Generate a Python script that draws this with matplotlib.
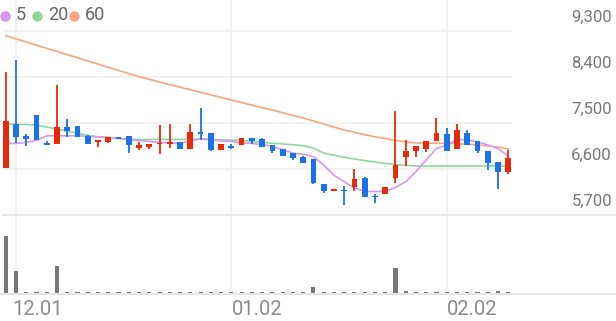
import matplotlib
matplotlib.use("Agg")
import matplotlib.pyplot as plt
import numpy as np

plt.rcParams['font.family'] = ['Roboto', 'DejaVu Sans']

# ---- data ----
opens = [6620, 7490, 7250, 7650, 7100, 7080, 7420, 7450, 7250, 7130,
         7130, 7230, 7250, 7020, 7040, 7080, 7080, 7120, 6990, 7330,
         7300, 6970, 7040, 7070, 7210, 7180, 7070, 6990, 6910, 6840,
         6790, 6310, 6160, 6190, 6250, 6420, 6070, 6110, 6420, 6840,
         6950, 7000, 7150, 7280, 7000, 7300, 7150, 6960, 6740, 6550]
highs = [8490, 8730, 7290, 7650, 7140, 8240, 7580, 7450, 7270, 7170,
         7230, 7230, 7250, 7120, 7080, 7460, 7490, 7120, 7490, 7800,
         7300, 7080, 7080, 7210, 7210, 7200, 7070, 7000, 6910, 6860,
         6790, 6310, 6210, 6270, 6600, 6450, 6120, 6240, 7740, 7170,
         7050, 7150, 7590, 7400, 7480, 7360, 7150, 6960, 6740, 6970]
lows = [6620, 7100, 7050, 7160, 7070, 7080, 7230, 7230, 7080, 7040,
        7100, 7180, 6910, 6970, 6990, 6890, 7020, 6990, 6990, 7170,
        6950, 6970, 6990, 7070, 7090, 7040, 6920, 6850, 6780, 6720,
        6310, 6140, 6160, 5900, 6170, 6060, 5930, 6110, 6330, 6660,
        6840, 6940, 7150, 6960, 7000, 7070, 6920, 6590, 6200, 6510]
closes = [7540, 7230, 7180, 7160, 7070, 7420, 7340, 7230, 7080, 7170,
          7230, 7180, 7060, 7070, 7080, 7100, 7120, 6990, 7330, 7290,
          6970, 7080, 7020, 7210, 7150, 7040, 6950, 6850, 6820, 6720,
          6330, 6160, 6210, 6160, 6400, 6060, 6050, 6240, 6670, 6960,
          7050, 7150, 7300, 6960, 7360, 7070, 6950, 6720, 6550, 6820]
volumes = [573, 217, 7, 7, 7, 267, 10, 7, 7, 7,
           7, 7, 7, 7, 7, 12, 7, 7, 15, 12,
           7, 7, 7, 7, 7, 7, 7, 7, 7, 7,
           60, 7, 7, 7, 7, 7, 7, 7, 250, 20,
           7, 7, 7, 7, 7, 7, 7, 7, 25, 7]
ma5 = [7100, 7100, 7120, 7160, 7250, 7250, 7250, 7250, 7240, 7230,
       7220, 7200, 7170, 7160, 7140, 7120, 7110, 7100, 7150, 7190,
       7180, 7150, 7140, 7110, 7100, 7080, 7040, 6980, 6910, 6890,
       6840, 6680, 6480, 6350, 6230, 6160, 6160, 6160, 6240, 6350,
       6550, 6780, 7000, 7070, 7170, 7170, 7130, 7070, 7000, 6850]
ma20 = [7475, 7475, 7470, 7460, 7420, 7380, 7340, 7300, 7260, 7230,
        7210, 7195, 7185, 7177, 7177, 7180, 7180, 7181, 7181, 7181,
        7175, 7170, 7167, 7155, 7140, 7120, 7103, 7090, 7075, 7056,
        7010, 6913, 6870, 6830, 6796, 6765, 6735, 6710, 6688, 6670,
        6659, 6659, 6659, 6659, 6659, 6659, 6659, 6659, 6659, 6659]
ma60 = [9208, 9146, 9085, 9023, 8961, 8900, 8838, 8776, 8714, 8652,
        8590, 8529, 8467, 8406, 8356, 8300, 8250, 8200, 8150, 8100,
        8050, 8000, 7950, 7900, 7850, 7800, 7754, 7700, 7650, 7598,
        7540, 7480, 7420, 7363, 7320, 7270, 7230, 7195, 7160, 7130,
        7110, 7105, 7103, 7103, 7095, 7085, 7070, 7050, 7030, 6991]
y_ticks = [5700, 6600, 7500, 8400, 9300]
y_tick_labels = ["5,700", "6,600", "7,500", "8,400", "9,300"]
date_labels = ["12.01", "01.02", "02.02"]
date_idx = [1, 22, 43]
legend_labels = ["5", "20", "60"]

# ---- style ----
W, H = 616, 321
UP = "#e8290b"
DOWN = "#1a73e8"
C5, C20, C60 = "#d896ea", "#8fd89c", "#f8a47e"
GRID = "#f0f0f0"
AXLINE = "#e4e4e4"

fig = plt.figure(figsize=(W / 100, H / 100), dpi=100)

px_per_idx = 10.257
x0_px = 5.7
xlim = (-x0_px / px_per_idx, (W - x0_px) / px_per_idx)

def fx(px):
    return px / W

def fy(py):
    return 1 - py / H

# price axes: pixel rows 0..215; 5700 at row 215, 9300 at row 31
price_bottom_px = 215
px_per_price = (215 - 31) / 3600.0
ax = fig.add_axes([0, fy(price_bottom_px), 1, price_bottom_px / H])
ax.set_xlim(*xlim)
ax.set_ylim(5700, 5700 + price_bottom_px / px_per_price)
ax.axis("off")

idx = np.arange(len(opens))

# grid lines
for t in y_ticks[1:]:
    ax.plot([(3 - x0_px) / px_per_idx, (512 - x0_px) / px_per_idx], [t, t],
            color=GRID, lw=1.2, zorder=0, solid_capstyle="butt")
for d in date_idx:
    ax.axvline(d, color=GRID, lw=1.2, zorder=0)

# moving averages
ax.plot(idx, ma60, color=C60, lw=1.2, zorder=2)
ax.plot(idx, ma20, color=C20, lw=1.2, zorder=2)
ax.plot(idx, ma5, color=C5, lw=1.2, zorder=2)

# candles
min_h = 1.6 / px_per_price
for i in idx:
    o, h, l, c = opens[i], highs[i], lows[i], closes[i]
    col = UP if c >= o else DOWN
    ax.vlines(i, l, h, color=col, lw=1.3, zorder=3)
    lo, hi = min(o, c), max(o, c)
    hgt = max(hi - lo, min_h)
    ax.bar(i, hgt, bottom=lo, width=0.56, color=col, zorder=4, linewidth=0)

# y tick labels (drawn above their grid lines, right-aligned)
for t, lab in zip(y_ticks, y_tick_labels):
    ypx = 31 + (9300 - t) * px_per_price - 14
    fig.text(fx(612), fy(ypx), lab, ha="right", va="center",
             fontsize=12, color="#777777")

# volume axes
vol_top_px, vol_bot_px = 236, 293
axv = fig.add_axes([0, fy(vol_bot_px), 1, (vol_bot_px - vol_top_px) / H])
axv.set_xlim(*xlim)
axv.set_ylim(0, max(volumes))
axv.axis("off")
for d in date_idx:
    axv.axvline(d, ymin=0, ymax=1, color=GRID, lw=1.2, zorder=0)
axv.bar(idx, volumes, width=0.4, color="#777777", linewidth=0, zorder=2, clip_on=False)

# full-width lines (price bottom & volume baseline)
line_ax = fig.add_axes([0, 0, 1, 1])
line_ax.set_xlim(0, W)
line_ax.set_ylim(H, 0)
line_ax.axis("off")
line_ax.plot([3, W], [215, 215], color=AXLINE, lw=1.2, zorder=1)
line_ax.plot([0, W], [293.5, 293.5], color=AXLINE, lw=1.5, zorder=1)
for d in date_idx:
    xp = x0_px + d * px_per_idx
    line_ax.plot([xp, xp], [215, 236], color=GRID, lw=1.2, zorder=0)

# date labels
date_x = [12, 232, 447]
for xp, lab in zip(date_x, date_labels):
    fig.text(fx(xp), fy(309.5), lab, ha="left", va="center",
             fontsize=14.5, color="#8a8a8a")

# legend
leg_x = [5.3, 37.3, 74.0]
leg_cols = [C5, C20, C60]
for xp, col, lab in zip(leg_x, leg_cols, legend_labels):
    line_ax.plot([xp], [15.5], "o", ms=7.5, color=col, mec="none")
    fig.text(fx(xp + 10.5), fy(15.5), lab, ha="left", va="center",
             fontsize=13, color="#666666")

fig.savefig("out.png", dpi=100)
